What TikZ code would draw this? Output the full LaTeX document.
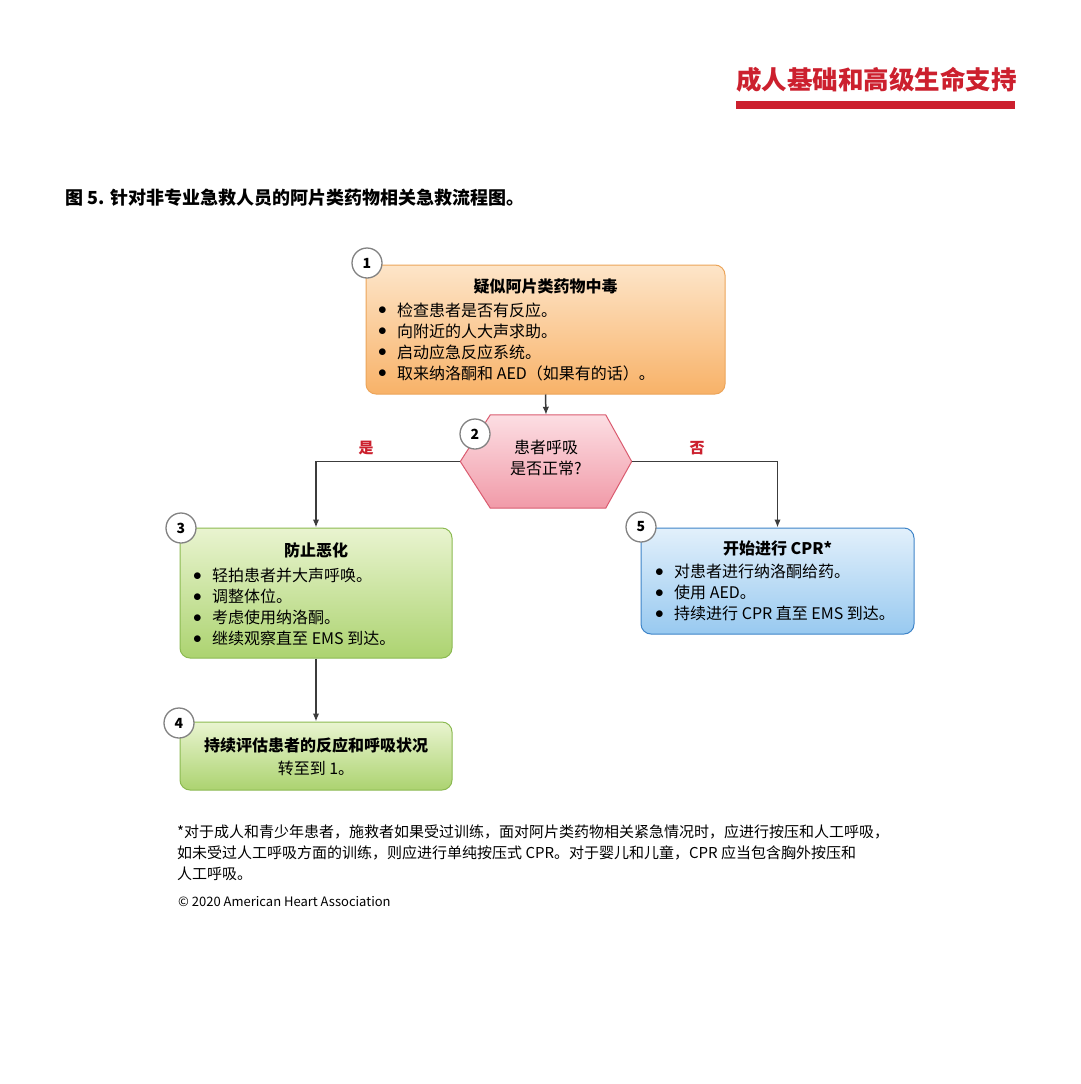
\documentclass[tikz,border=0pt]{standalone}
\usepackage{fontspec}
\setmainfont{Noto Sans CJK SC}
\usepackage{xcolor}
\usepackage{tikz}
\usetikzlibrary{calc}
\usetikzlibrary{arrows.meta}
\usetikzlibrary{positioning}
\usetikzlibrary{shadings}
\definecolor{ahared}{RGB}{204,32,46}
\definecolor{linegray}{RGB}{60,60,60}
\definecolor{ringgray}{RGB}{130,130,130}
\definecolor{orangetop}{RGB}{253,229,201}
\definecolor{orangebot}{RGB}{248,178,104}
\definecolor{orangeline}{RGB}{236,165,90}
\definecolor{pinktop}{RGB}{252,222,227}
\definecolor{pinkbot}{RGB}{241,154,168}
\definecolor{pinkline}{RGB}{218,92,112}
\definecolor{greentop}{RGB}{233,244,208}
\definecolor{greenbot}{RGB}{172,211,112}
\definecolor{greenline}{RGB}{140,186,82}
\definecolor{bluetop}{RGB}{226,240,251}
\definecolor{bluebot}{RGB}{152,201,240}
\definecolor{blueline}{RGB}{62,132,200}
\tikzset{>=latex}
\tikzstyle{box} = [rectangle, rounded corners=10pt, line width=1pt, inner sep=0pt]
\tikzstyle{orangebox} = [box, draw=orangeline, top color=orangetop, bottom color=orangebot]
\tikzstyle{greenbox} = [box, draw=greenline, top color=greentop, bottom color=greenbot]
\tikzstyle{bluebox} = [box, draw=blueline, top color=bluetop, bottom color=bluebot]
\tikzstyle{hexbox} = [draw=pinkline, line width=1pt, top color=pinktop, bottom color=pinkbot]
\tikzstyle{num} = [circle, draw=ringgray, fill=white, line width=1.3pt, minimum size=30pt, inner sep=0pt, font=\fontsize{14}{14}\selectfont\bfseries]
\tikzstyle{conn} = [-{Latex[length=8pt,width=6.5pt]}, draw=linegray, line width=1.5pt]
\tikzstyle{txt} = [inner sep=0pt, align=left, font=\fontsize{16}{21}\selectfont]
\tikzstyle{head} = [inner sep=0pt, align=center, font=\fontsize{16}{21}\selectfont\bfseries]
\newcommand{\bul}{\makebox[19pt][l]{\raisebox{1.5pt}{$\bullet$}}}

\begin{document}
\begin{tikzpicture}[x=1pt, y=-1pt]
\fill [white] (0, 0) rectangle (1080, 1084);
\useasboundingbox (0, 0) rectangle (1080, 1084);
% header
\node [inner sep=0pt, anchor=west, text=ahared, font=\fontsize{25.5}{25.5}\selectfont\bfseries] (hdr) at (736, 80) {成人基础和高级生命支持};
\fill [ahared] (736, 101) rectangle (1015, 109);
\node [inner sep=0pt, anchor=west, font=\fontsize{18}{18}\selectfont\bfseries] (cap) at (65, 198) {图 5. 针对非专业急救人员的阿片类药物相关急救流程图。};
% boxes
\node [orangebox, minimum width=359pt, minimum height=129pt] (b1) at (545.5, 329.5) {};
\node [rectangle, minimum width=171pt, minimum height=93pt, inner sep=0pt] (q2) at (546, 461.5) {};
\path [hexbox] (q2.west) -- ($(q2.north west)+(30,0)$) -- ($(q2.north east)+(-26,0)$) -- (q2.east) -- ($(q2.south east)+(-26,0)$) -- ($(q2.south west)+(30,0)$) -- cycle;
\node [greenbox, minimum width=272pt, minimum height=130pt] (b3) at (316, 593) {};
\node [greenbox, minimum width=272pt, minimum height=68pt] (b4) at (316, 756) {};
\node [bluebox, minimum width=273pt, minimum height=106pt] (b5) at (777.5, 581) {};
% connectors
\draw [conn] (b1.south) to (q2.north);
\draw [conn] (q2.west) -| (b3.north);
\draw [conn] (q2.east) -| (b5.north);
\draw [conn] (b3.south) to (b4.north);
\node [inner sep=0pt, text=ahared, font=\fontsize{15}{15}\selectfont\bfseries] (yes) at (366, 448) {是};
\node [inner sep=0pt, text=ahared, font=\fontsize{15}{15}\selectfont\bfseries] (no) at (697, 448) {否};
% box texts
\node [head] (b1t) at (545.5, 286) {疑似阿片类药物中毒};
\node [txt, anchor=west] (b1l) at (378, 341.5) {\bul 检查患者是否有反应。\\ \bul 向附近的人大声求助。\\ \bul 启动应急反应系统。\\ \bul 取来纳洛酮和 AED（如果有的话）。};
\node [txt, align=center] (q2t) at (546, 457.5) {患者呼吸\\是否正常?};
\node [head] (b3t) at (316, 550) {防止恶化};
\node [txt, anchor=west] (b3l) at (193, 607) {\bul 轻拍患者并大声呼唤。\\ \bul 调整体位。\\ \bul 考虑使用纳洛酮。\\ \bul 继续观察直至 EMS 到达。};
\node [head] (b4t) at (316, 745) {持续评估患者的反应和呼吸状况};
\node [txt, align=center] (b4l) at (316, 768) {转至到 1。};
\node [head] (b5t) at (777.5, 548) {开始进行 CPR*};
\node [txt, anchor=west] (b5l) at (655, 592.5) {\bul 对患者进行纳洛酮给药。\\ \bul 使用 AED。\\ \bul 持续进行 CPR 直至 EMS 到达。};
% step numbers
\node [num] (n1) at (367, 263) {1};
\node [num] (n2) at (475, 434) {2};
\node [num] (n3) at (181, 528) {3};
\node [num] (n4) at (179, 723) {4};
\node [num] (n5) at (641, 527) {5};
% footnote
\node [txt, anchor=west, font=\fontsize{15}{21}\selectfont] (fn) at (177, 853) {*对于成人和青少年患者，施救者如果受过训练，面对阿片类药物相关紧急情况时，应进行按压和人工呼吸，\\如未受过人工呼吸方面的训练，则应进行单纯按压式 CPR。对于婴儿和儿童，CPR 应当包含胸外按压和\\人工呼吸。};
\node [inner sep=0pt, anchor=west, font=\fontsize{13}{13}\selectfont] (copy) at (178, 902) {© 2020 American Heart Association};
\end{tikzpicture}
\end{document}
